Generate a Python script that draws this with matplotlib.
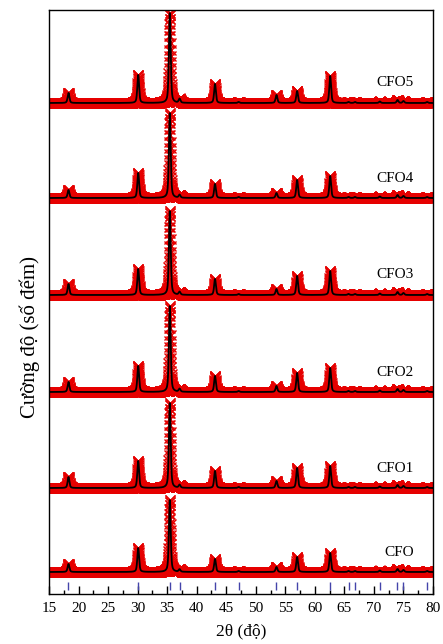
import numpy as np
import matplotlib
matplotlib.use("Agg")
import matplotlib.pyplot as plt
from matplotlib.ticker import MultipleLocator

plt.rcParams['font.family'] = ['Liberation Serif', 'DejaVu Serif']

# ---------------- data ----------------
samples = ["CFO", "CFO1", "CFO2", "CFO3", "CFO4", "CFO5"]
# vertical offsets of each pattern (arbitrary counts)
offsets = [22, 106, 202, 299, 396, 491]
# spinel reflections (2theta, degrees)
peak_pos = [18.3, 30.1, 35.45, 37.1, 43.1, 47.1, 53.5, 57.0, 62.6,
            65.7, 66.8, 71.0, 74.0, 75.0, 79.0]
# calculated peak heights (arbitrary counts) per sample, same order as peak_pos
heights_CFO  = [8, 24, 72, 2.5, 13, 1, 5, 15, 19, 1, 1, 1.5, 3, 2, 1]
heights_CFO1 = [11, 27, 85, 3, 17, 1, 7, 20, 22, 1, 1, 1.5, 3, 2, 1]
heights_CFO2 = [10, 26, 86, 3, 16, 1, 6, 19, 24, 1, 1, 1.5, 3, 2, 1]
heights_CFO3 = [11, 26, 84, 3, 16, 1, 6, 19, 24, 1, 1, 1.5, 3, 2, 1]
heights_CFO4 = [8, 25, 85, 3, 14, 1, 5, 18, 22, 1, 1, 1.5, 3, 2, 1]
heights_CFO5 = [10, 28, 90, 4, 19, 1, 8, 12, 27, 1, 1, 1.5, 3, 2, 1]
heights = [heights_CFO, heights_CFO1, heights_CFO2, heights_CFO3,
           heights_CFO4, heights_CFO5]
# Bragg positions (tick marks)
bragg_pos = [18.3, 30.1, 35.45, 37.1, 43.1, 47.15, 53.45, 57.0, 62.6,
             65.8, 66.8, 71.0, 73.95, 74.95, 79.0]
bragg_y = [4, 12]

fwhm = 0.35
eta = 0.5
two_theta = np.arange(15.0, 80.0001, 0.02)


def profile(x, pos, hts):
    y = np.zeros_like(x)
    for p, h in zip(pos, hts):
        d = (x - p) / (fwhm / 2)
        lor = 1.0 / (1 + d ** 2)
        gau = np.exp(-np.log(2) * d ** 2)
        y += h * (eta * lor + (1 - eta) * gau)
    return y


# ---------------- figure ----------------
fig = plt.figure(figsize=(4.43, 6.44), dpi=100)
ax = fig.add_axes([49 / 443, 50 / 644, 384 / 443, 584 / 644])

for name, off, hts in zip(samples, offsets, heights):
    y = off + profile(two_theta, peak_pos, hts)
    ax.plot(two_theta, y, linestyle='none', marker='x', ms=7, mew=1.0,
            color='#e60000', zorder=2)
    ax.plot(two_theta, y, color='black', lw=1.3, zorder=3)
    ax.text(76.7, off + 20, name, ha='right', va='center', fontsize=11)

ax.vlines(bragg_pos, bragg_y[0], bragg_y[1], color='#4444aa', lw=1.0)

ax.set_xlim(15, 80)
ax.set_ylim(0, 584)
ax.xaxis.set_major_locator(MultipleLocator(5))
ax.xaxis.set_minor_locator(MultipleLocator(2.5))
ax.tick_params(axis='x', which='major', direction='in', length=6, width=1,
               pad=6, labelsize=11, top=False)
ax.tick_params(axis='x', which='minor', direction='in', length=3, width=1,
               top=False)
ax.set_yticks([])
for s in ax.spines.values():
    s.set_linewidth(1.0)

ax.set_xlabel("2θ (độ)", fontsize=12.5, labelpad=6)
ax.set_ylabel("Cường độ (số đếm)", fontsize=15)
ax.yaxis.set_label_coords(-0.023, 0.44)

fig.savefig("out.png", dpi=100)
